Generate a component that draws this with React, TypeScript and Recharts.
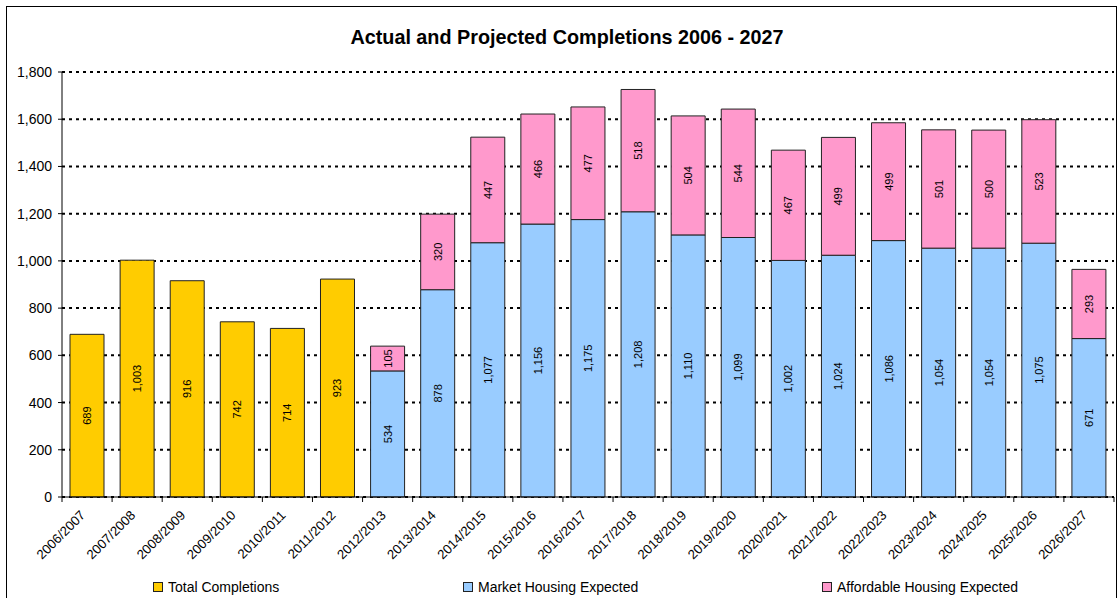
import React from 'react';
import { BarChart, Bar, XAxis, YAxis, CartesianGrid, LabelList } from 'recharts';

const years = [
  '2006/2007', '2007/2008', '2008/2009', '2009/2010', '2010/2011', '2011/2012',
  '2012/2013', '2013/2014', '2014/2015', '2015/2016', '2016/2017', '2017/2018',
  '2018/2019', '2019/2020', '2020/2021', '2021/2022', '2022/2023', '2023/2024',
  '2024/2025', '2025/2026', '2026/2027',
];

const totalCompletions = [
  689, 1003, 916, 742, 714, 923,
  null, null, null, null, null, null, null, null, null, null, null, null, null, null, null,
];

const marketHousing = [
  null, null, null, null, null, null,
  534, 878, 1077, 1156, 1175, 1208, 1110, 1099, 1002, 1024, 1086, 1054, 1054, 1075, 671,
];

const affordableHousing = [
  null, null, null, null, null, null,
  105, 320, 447, 466, 477, 518, 504, 544, 467, 499, 499, 501, 500, 523, 293,
];

const yTicks = [0, 200, 400, 600, 800, 1000, 1200, 1400, 1600, 1800];

const data = years.map((year, i) => ({
  year,
  total: totalCompletions[i],
  market: marketHousing[i],
  affordable: affordableHousing[i],
}));

const FONT = 'Arial, "Liberation Sans", sans-serif';
const PLOT_LEFT = 62;
const PLOT_RIGHT = 1114;
const PLOT_BOTTOM = 497;
const BAND = (PLOT_RIGHT - PLOT_LEFT) / years.length;

const fmt = (v: number) => v.toLocaleString('en-US');

// value label, rotated, centred in the segment
function SegmentLabel(props: any) {
  const { x, y, width, height, value } = props;
  if (value === null || value === undefined || !height) return null;
  const cx = x + width / 2;
  const cy = y + height / 2;
  return (
    <text
      x={cx}
      y={cy}
      transform={`rotate(-90, ${cx}, ${cy})`}
      textAnchor="middle"
      dominantBaseline="central"
      fontSize={11}
      fontFamily={FONT}
      fill="#000"
    >
      {fmt(value)}
    </text>
  );
}

// Excel style category axis: tick marks on the boundaries, slanted labels
function YearTick(props: any) {
  const { x, payload, index } = props;
  const left = x - BAND / 2;
  const right = x + BAND / 2;
  const tx = x - 1;
  const ty = PLOT_BOTTOM + 19;
  return (
    <g>
      <line x1={left} y1={PLOT_BOTTOM} x2={left} y2={PLOT_BOTTOM + 5} stroke="#000" />
      {index === years.length - 1 && (
        <line x1={right} y1={PLOT_BOTTOM} x2={right} y2={PLOT_BOTTOM + 5} stroke="#000" />
      )}
      <text
        x={tx}
        y={ty}
        transform={`rotate(-45, ${tx}, ${ty})`}
        textAnchor="end"
        fontSize={13.2}
        fontFamily={FONT}
        fill="#000"
      >
        {payload.value}
      </text>
    </g>
  );
}

const legendItems = [
  { label: 'Total Completions', color: '#FFCC00', left: 153 },
  { label: 'Market Housing Expected', color: '#99CCFF', left: 463 },
  { label: 'Affordable Housing Expected', color: '#FF99CC', left: 822 },
];

export default function App() {
  return (
    <div style={{ position: 'absolute', left: 0, top: 0, width: 1120, height: 598, background: '#fff', overflow: 'hidden' }}>
      <div
        style={{
          position: 'absolute', left: 6, top: 6, width: 1111, height: 600,
          border: '1px solid #000', boxSizing: 'border-box',
        }}
      />
      <div
        style={{
          position: 'absolute', left: 0, top: 26, width: 1134, textAlign: 'center',
          fontFamily: FONT, fontWeight: 'bold', fontSize: 19.8, lineHeight: '22px', color: '#000',
        }}
      >
        Actual and Projected Completions 2006 - 2027
      </div>
      <div style={{ position: 'absolute', left: 0, top: 0 }}>
        <BarChart
          width={1120}
          height={598}
          data={data}
          margin={{ top: 72, right: 6, bottom: 41, left: 12 }}
          barCategoryGap="16%"
        >
          <CartesianGrid
            vertical={false}
            stroke="#000"
            strokeWidth={2}
            strokeDasharray="3 4"
          />
          <XAxis
            dataKey="year"
            interval={0}
            height={60}
            tickLine={false}
            tick={<YearTick />}
            axisLine={{ stroke: '#000' }}
          />
          <YAxis
            width={50}
            domain={[0, 1800]}
            ticks={yTicks}
            tickFormatter={fmt}
            tickSize={4}
            tickMargin={6}
            tick={{ fontSize: 14, fontFamily: FONT, fill: '#000' }}
            axisLine={{ stroke: '#000' }}
            tickLine={{ stroke: '#000' }}
          />
          <Bar dataKey="total" stackId="a" fill="#FFCC00" stroke="#222" strokeWidth={1} isAnimationActive={false}>
            <LabelList dataKey="total" content={<SegmentLabel />} />
          </Bar>
          <Bar dataKey="market" stackId="a" fill="#99CCFF" stroke="#222" strokeWidth={1} isAnimationActive={false}>
            <LabelList dataKey="market" content={<SegmentLabel />} />
          </Bar>
          <Bar dataKey="affordable" stackId="a" fill="#FF99CC" stroke="#222" strokeWidth={1} isAnimationActive={false}>
            <LabelList dataKey="affordable" content={<SegmentLabel />} />
          </Bar>
        </BarChart>
      </div>
      {legendItems.map((item) => (
        <div
          key={item.label}
          style={{
            position: 'absolute', left: item.left, top: 578, display: 'flex', alignItems: 'center',
            fontFamily: FONT, fontSize: 14, lineHeight: '18px', color: '#000', whiteSpace: 'nowrap',
          }}
        >
          <span
            style={{
              display: 'inline-block', width: 8, height: 8, background: item.color,
              border: '1px solid #222', marginRight: 5,
            }}
          />
          {item.label}
        </div>
      ))}
    </div>
  );
}
